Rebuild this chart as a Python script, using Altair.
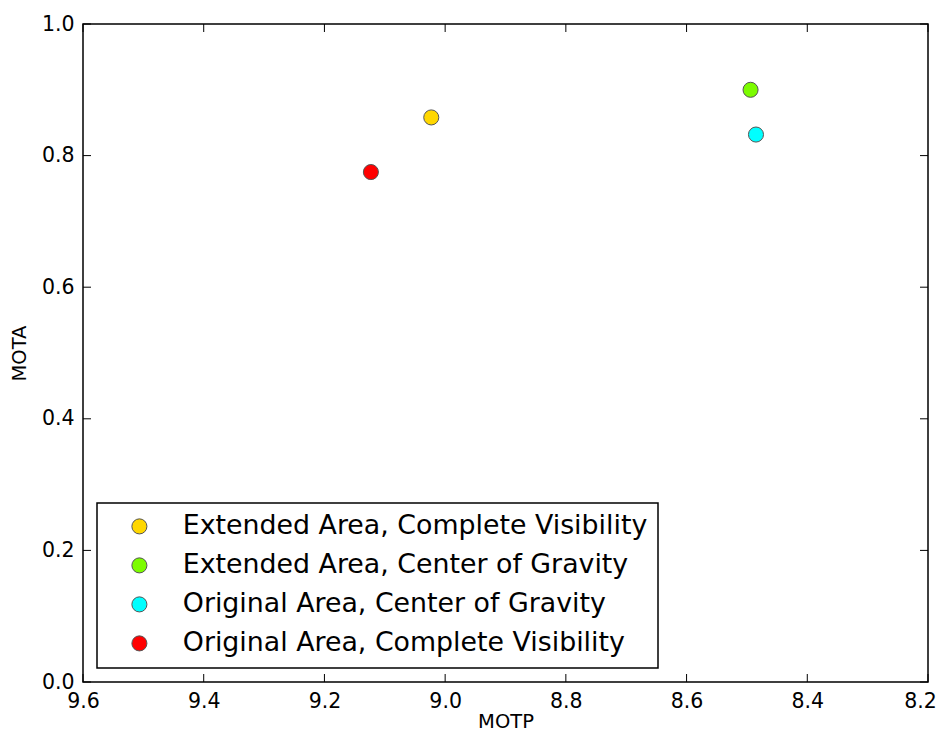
import altair as alt
import pandas as pd

# ---- data ----
series = [
    "Extended Area, Complete Visibility",
    "Extended Area, Center of Gravity",
    "Original Area, Center of Gravity",
    "Original Area, Complete Visibility",
]
motp = [9.023, 8.494, 8.485, 9.123]
mota = [0.858, 0.900, 0.832, 0.775]
colors = ["#FFD700", "#7CFC00", "#00FFFF", "#FF0000"]

x_ticks = [9.6, 9.4, 9.2, 9.0, 8.8, 8.6, 8.4, 8.2]
y_ticks = [0.0, 0.2, 0.4, 0.6, 0.8, 1.0]

W, H = 845, 658
FONT = "DejaVu Sans"

df = pd.DataFrame({"Series": series, "MOTP": motp, "MOTA": mota})
xt = pd.DataFrame({"MOTP": x_ticks})
yt = pd.DataFrame({"MOTA": y_ticks})

xscale = alt.Scale(domain=[9.6, 8.2], nice=False, zero=False)
yscale = alt.Scale(domain=[0.0, 1.0], nice=False, zero=False)

x_axis = alt.Axis(values=x_ticks, format=".1f", title="MOTP", grid=False,
                  ticks=False, domain=False, labelPadding=9, titlePadding=1,
                  labelFlush=False,
                  labelOffset={"condition": {"test": "datum.value < 8.25",
                                             "value": -8},
                               "value": 0})
y_axis = alt.Axis(values=y_ticks, format=".1f", title="MOTA", grid=False,
                  ticks=False, domain=False, labelPadding=9, titlePadding=12,
                  labelFlush=False)

points = alt.Chart(df).mark_circle(size=227, opacity=1, stroke="#555555",
                                   strokeWidth=1).encode(
    x=alt.X("MOTP:Q", scale=xscale, axis=x_axis),
    y=alt.Y("MOTA:Q", scale=yscale, axis=y_axis),
    color=alt.Color("Series:N",
                    scale=alt.Scale(domain=series, range=colors),
                    sort=series,
                    legend=alt.Legend(title=None, orient="bottom-left",
                                      offset=14)),
)

tick_len = 8
xb = alt.Chart(xt).mark_rule(color="black", strokeWidth=1).encode(
    x=alt.X("MOTP:Q", scale=xscale, axis=x_axis),
    y=alt.value(H), y2=alt.value(H - tick_len))
xtop = alt.Chart(xt).mark_rule(color="black", strokeWidth=1).encode(
    x=alt.X("MOTP:Q", scale=xscale, axis=x_axis),
    y=alt.value(0), y2=alt.value(tick_len))
yl = alt.Chart(yt).mark_rule(color="black", strokeWidth=1).encode(
    y=alt.Y("MOTA:Q", scale=yscale, axis=y_axis),
    x=alt.value(0), x2=alt.value(tick_len))
yr = alt.Chart(yt).mark_rule(color="black", strokeWidth=1).encode(
    y=alt.Y("MOTA:Q", scale=yscale, axis=y_axis),
    x=alt.value(W), x2=alt.value(W - tick_len))

chart = alt.layer(xb, xtop, yl, yr, points).properties(
    width=W, height=H,
    autosize=alt.AutoSizeParams(type="none"),
    padding={"left": 75, "top": 16, "right": 9, "bottom": 53},
).configure_view(
    stroke="black", strokeWidth=1.5
).configure_axis(
    labelFont=FONT, labelFontSize=20.5, labelColor="black",
    titleFont=FONT, titleFontSize=19.5, titleFontWeight="normal",
    titleColor="black",
).configure_legend(
    labelFont=FONT, labelFontSize=26.8, labelColor="black", labelLimit=0,
    symbolType="circle", symbolSize=227, symbolStrokeColor="#555555",
    symbolStrokeWidth=1, symbolOffset=19, labelOffset=30,
    padding=10, rowPadding=11, strokeColor="black", strokeWidth=1.5,
    fillColor="white", cornerRadius=0,
)

chart.save("out.html", embed_options={"renderer": "svg", "actions": False})
